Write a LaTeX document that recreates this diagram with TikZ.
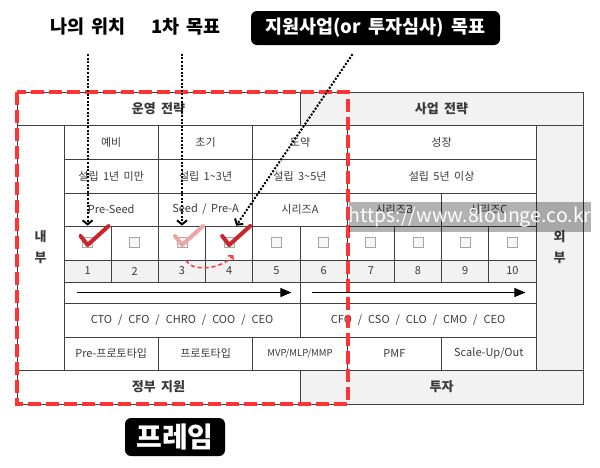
\documentclass[tikz,border=0pt]{standalone}
\usepackage{fontspec}
\setmainfont[WordSpace=1.8]{Noto Sans CJK KR}
\usetikzlibrary{arrows.meta}

\definecolor{gridc}{HTML}{404040}
\definecolor{shade}{HTML}{F2F2F2}
\definecolor{txtc}{HTML}{3A3A3A}
\definecolor{chk}{HTML}{C8262C}
\definecolor{chkpale}{HTML}{EDA6A8}
\definecolor{framered}{HTML}{FF3535}

\newcommand{\fsz}[1]{\fontsize{#1}{#1}\selectfont}
\newcommand{\slsep}{\hspace{6pt}/\hspace{6pt}}

\tikzset{
  cell/.style={draw=gridc, line width=0.8pt, inner sep=0pt, text=txtc, font=\fsz{11}},
  head/.style={cell, font=\fsz{13}\bfseries},
  ckcell/.style={cell, minimum width=47.2pt, minimum height=34pt,
    path picture={\draw[gray!70, line width=0.7pt, fill=gray!6]
      ([xshift=-5pt,yshift=6pt]path picture bounding box.center) rectangle ++(10,10);}},
  numcell/.style={cell, fill=shade, minimum width=47.2pt, minimum height=22pt},
  lbl/.style={inner sep=2pt, font=\fsz{18.5}\bfseries},
  blackbox/.style={fill=black, text=white, rounded corners=6pt, inner sep=0pt, font=\fsz{18.5}\bfseries},
  tickmark/.style={line width=4pt, line cap=round, line join=round},
  pointer/.style={line width=2pt, dash pattern=on 2pt off 1.6pt, -{Straight Barb[length=4pt,width=10pt]}},
  flow/.style={line width=1pt, -{Triangle[length=11pt,width=9pt]}},
  framebox/.style={draw=framered, line width=4pt, dash pattern=on 13pt off 5pt}
}

\begin{document}
\begin{tikzpicture}[x=1pt, y=-1pt]
\useasboundingbox (0,0) rectangle (600,467);

% outer headers
\node[head, minimum width=283pt, minimum height=33pt] (ops) at (158.5,108.5) {운영 전략};
\node[head, fill=shade, minimum width=283pt, minimum height=33pt] (biz) at (441.5,108.5) {사업 전략};
\node[head, align=center, font=\fontsize{13}{21}\selectfont\bfseries, minimum width=47pt, minimum height=245pt] (inside) at (40.5,247.5) {내\\부};
\node[head, fill=shade, align=center, font=\fontsize{13}{21}\selectfont\bfseries, minimum width=47pt, minimum height=245pt] (outside) at (559.5,247.5) {외\\부};
\node[head, minimum width=283pt, minimum height=34pt] (gov) at (158.5,387) {정부 지원};
\node[head, fill=shade, minimum width=283pt, minimum height=34pt] (inv) at (441.5,387) {투자};

% stages
\node[cell, minimum width=94.4pt, minimum height=34pt] (s1) at (111.2,142) {예비};
\node[cell, minimum width=94.4pt, minimum height=34pt] (s2) at (205.6,142) {초기};
\node[cell, minimum width=94.4pt, minimum height=34pt] (s3) at (300,142) {도약};
\node[cell, minimum width=188.8pt, minimum height=34pt] (s4) at (441.6,142) {성장};

\node[cell, minimum width=94.4pt, minimum height=34pt] (f1) at (111.2,176) {설립 1년 미만};
\node[cell, minimum width=94.4pt, minimum height=34pt] (f2) at (205.6,176) {설립 1\textasciitilde 3년};
\node[cell, minimum width=94.4pt, minimum height=34pt] (f3) at (300,176) {설립 3\textasciitilde 5년};
\node[cell, minimum width=188.8pt, minimum height=34pt] (f4) at (441.6,176) {설립 5년 이상};

\node[cell, minimum width=94.4pt, minimum height=33pt] (r1) at (111.2,209.5) {Pre-Seed};
\node[cell, minimum width=94.4pt, minimum height=33pt] (r2) at (205.6,209.5) {Seed / Pre-A};
\node[cell, minimum width=94.4pt, minimum height=33pt] (r3) at (300,209.5) {시리즈A};
\node[cell, minimum width=94.4pt, minimum height=33pt] (r4) at (394.4,209.5) {시리즈B};
\node[cell, minimum width=94.4pt, minimum height=33pt] (r5) at (488.8,209.5) {시리즈C};

% check boxes
\node[ckcell] (c1) at (87.6,243) {};
\node[ckcell] (c2) at (134.8,243) {};
\node[ckcell] (c3) at (182,243) {};
\node[ckcell] (c4) at (229.2,243) {};
\node[ckcell] (c5) at (276.4,243) {};
\node[ckcell] (c6) at (323.6,243) {};
\node[ckcell] (c7) at (370.8,243) {};
\node[ckcell] (c8) at (418,243) {};
\node[ckcell] (c9) at (465.2,243) {};
\node[ckcell] (c10) at (512.4,243) {};

\node[numcell] (n1) at (87.6,271) {1};
\node[numcell] (n2) at (134.8,271) {2};
\node[numcell] (n3) at (182,271) {3};
\node[numcell] (n4) at (229.2,271) {4};
\node[numcell] (n5) at (276.4,271) {5};
\node[numcell] (n6) at (323.6,271) {6};
\node[numcell] (n7) at (370.8,271) {7};
\node[numcell] (n8) at (418,271) {8};
\node[numcell] (n9) at (465.2,271) {9};
\node[numcell] (n10) at (512.4,271) {10};

% arrows, roles, products
\node[cell, minimum width=236pt, minimum height=21pt] (a1) at (182,292.5) {};
\node[cell, minimum width=236pt, minimum height=21pt] (a2) at (418,292.5) {};
\draw[flow] ([xshift=13pt]a1.west) -- ([xshift=-9pt]a1.east);
\draw[flow] ([xshift=12pt]a2.west) -- ([xshift=-11pt]a2.east);

\node[cell, minimum width=236pt, minimum height=34pt] (ro1) at (182,320) {CTO\slsep CFO\slsep CHRO\slsep COO\slsep CEO};
\node[cell, minimum width=236pt, minimum height=34pt] (ro2) at (418,320) {CFO\slsep CSO\slsep CLO\slsep CMO\slsep CEO};

\node[cell, minimum width=94.4pt, minimum height=33pt] (p1) at (111.2,353.5) {Pre-프로토타입};
\node[cell, minimum width=94.4pt, minimum height=33pt] (p2) at (205.6,353.5) {프로토타입};
\node[cell, font=\fsz{9.5}, minimum width=94.4pt, minimum height=33pt] (p3) at (300,353.5) {MVP/MLP/MMP};
\node[cell, minimum width=94.4pt, minimum height=33pt] (p4) at (394.4,353.5) {PMF};
\node[cell, minimum width=94.4pt, minimum height=33pt] (p5) at (488.8,353.5) {Scale-Up/Out};

% ticks
\draw[tickmark, chk] (c1.center) ++(-7,-7) -- ++(7,9) -- ++(21,-19);
\draw[tickmark, chkpale] (c3.center) ++(-7,-7) -- ++(7,9) -- ++(21,-19);
\draw[tickmark, chk] (c4.center) ++(-7,-7) -- ++(7,9) -- ++(21,-19);
\draw[framered, line width=1.5pt, dash pattern=on 4pt off 3pt, -{Straight Barb[length=3pt,width=7pt]}]
  ([xshift=4pt]c3.south) .. controls +(6,12) and +(-11,14) .. ([xshift=4pt,yshift=-12pt]c4.center);

% frame
\draw[framebox] (ops.north west) rectangle (c6.east |- gov.south);

% labels
\node[lbl] (mypos) at (88,27) {나의 위치};
\node[lbl] (goal1) at (186,27) {1차 목표};
\node[blackbox, minimum width=249pt, minimum height=34pt] (goal2) at (375.5,28) {지원사업(or 투자심사) 목표};
\node[blackbox, font=\fsz{28}\bfseries, minimum width=100pt, minimum height=38pt] (framelbl) at (175,437) {프레임};

\draw[pointer, shorten <=16pt] (c1.north |- mypos.south) -- (c1.north);
\draw[pointer, shorten <=16pt] (c3.north |- goal1.south) -- (c3.north);
\draw[pointer] ([xshift=-23pt,yshift=-9pt]goal2.south) -- ([xshift=7pt]c4.north);

% watermark
\node[fill=black, fill opacity=0.3, text=white, text opacity=1, inner sep=0pt,
  minimum width=240pt, minimum height=30pt, font=\fsz{19.5}] (url) at (470,217) {https://www.8lounge.co.kr};
\end{tikzpicture}
\end{document}
